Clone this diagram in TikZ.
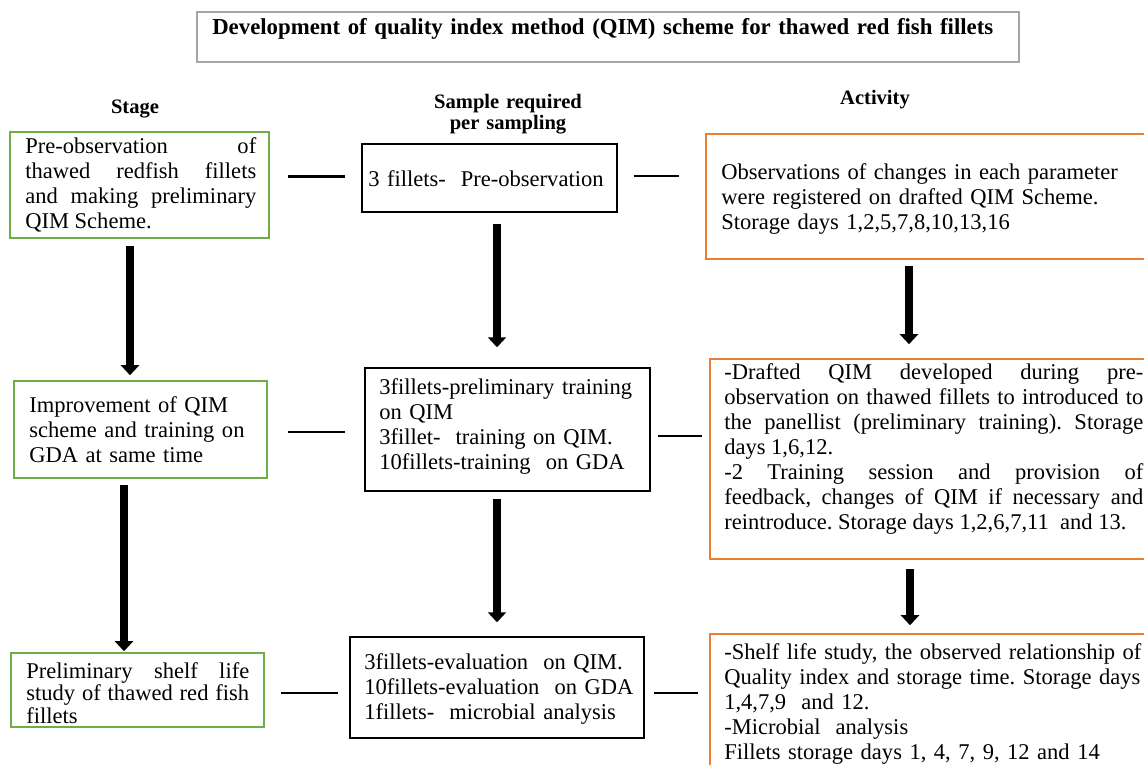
\documentclass[tikz,border=0pt]{standalone}
\usepackage{fontspec}
\setmainfont{Liberation Serif}
\usetikzlibrary{arrows.meta,fit}
\definecolor{grn}{RGB}{112,173,71}
\definecolor{org}{RGB}{237,125,49}
\definecolor{ttl}{RGB}{166,166,166}
\frenchspacing
\begin{document}
\begin{tikzpicture}[x=0.75pt,y=-0.75pt,
  gbox/.style={draw=grn, line width=1.2pt, inner sep=0pt},
  obox/.style={draw=org, line width=1.2pt, inner sep=0pt},
  kbox/.style={draw=black, line width=1.1pt, inner sep=0pt},
  tbox/.style={draw=ttl, line width=1.3pt, inner sep=0pt},
  txt/.style={inner sep=0pt, anchor=base west, align=left, font=\fontsize{16.9}{18.75}\selectfont},
  jtxt/.style={txt, align=justify, execute at begin node={\tolerance=10000\hbadness=10000\exhyphenpenalty=10000\hyphenpenalty=10000}},
  hdr/.style={inner sep=0pt, anchor=base, align=center, text width=150pt, font=\bfseries\fontsize{15.4}{15.75}\selectfont},
  arr/.style={line width=6.5pt, -{Triangle[width=13.5pt,length=7.5pt]}},
  dashln/.style={line width=2.2pt},
]
\useasboundingbox (0,0) rectangle (1144,764);
\fill[white] (0,0) rectangle (1144,764);

% title
\node[tbox, fit={(197,12) (1019,62)}] (title) {};
\node[txt, text width=600pt, font=\bfseries\fontsize{17.1}{19}\selectfont] (titlet) at (212,34) {Development of quality index method (QIM) scheme for thawed red fish fillets};

% headers
\node[hdr] (h1) at (135,113) {Stage};
\node[hdr] (h2) at (508,108) {Sample required\\per sampling};
\node[hdr] (h3) at (875,104) {Activity};

% boxes
\node[gbox, fit={(10,132) (269,238)}] (s1) {};
\node[kbox, fit={(362,144) (617,212)}] (b1) {};
\node[obox, fit={(706,134) (1170,259)}] (o1) {};
\node[gbox, fit={(14,381) (267,478)}] (s2) {};
\node[kbox, fit={(365,368) (650,491)}] (b2) {};
\node[obox, fit={(710,359) (1170,559)}] (o2) {};
\node[gbox, fit={(11,653) (264,727)}] (s3) {};
\node[kbox, fit={(350,637) (644,738)}] (b3) {};
\node[obox, fit={(710,634) (1170,785)}] (o3) {};

% texts
\node[jtxt, text width=173.25pt] (s1t) at (25,153) {Pre-observation of\linebreak thawed redfish fillets\linebreak and making preliminary\linebreak QIM Scheme.};
\node[txt, text width=183.75pt] (b1t) at (368,186) {3 fillets-~ Pre-observation};
\node[txt, text width=315pt] (o1t) at (721,179) {Observations of changes in each parameter\\were registered on drafted QIM Scheme.\\Storage days 1,2,5,7,8,10,13,16};

\node[txt, text width=176.25pt] (s2t) at (29,412) {Improvement of QIM\\scheme and training on\\GDA at same time};
\node[txt, text width=201pt] (b2t) at (379,394) {3fillets-preliminary training\\on QIM\\3fillet-~ training on QIM.\\10fillets-training~ on GDA};
\node[jtxt, text width=314.25pt] (o2t) at (724,379) {-Drafted QIM developed during pre-\linebreak observation on thawed fillets to introduced to\linebreak the panellist (preliminary training). Storage\linebreak days 1,6,12.\par -2 Training session and provision of\linebreak feedback, changes of QIM if necessary and\linebreak reintroduce. Storage days 1,2,6,7,11~ and 13.};

\node[jtxt, text width=167.25pt, font=\fontsize{16.9}{16.9}\selectfont] (s3t) at (26,678) {Preliminary shelf life\linebreak study of thawed red fish\linebreak fillets};
\node[txt, text width=206.25pt] (b3t) at (364,669) {3fillets-evaluation~ on QIM.\\10fillets-evaluation~ on GDA\\1fillets-~ microbial analysis};
\node[txt, text width=318.75pt] (o3t) at (724,659) {-Shelf life study, the observed relationship of\\Quality index and storage time. Storage days\\1,4,7,9~ and 12.\\-Microbial~ analysis\\Fillets storage days 1, 4, 7, 9, 12 and 14};

% arrow columns and dash rows
\coordinate (xa1) at (130,0);
\coordinate (xa2) at (497,0);
\coordinate (xa3) at (909,0);
\coordinate (xa4) at (124,0);
\coordinate (xa5) at (497,0);
\coordinate (xa6) at (910,0);
\coordinate (yd1) at (0,176.5);
\coordinate (yd2) at (0,176);
\coordinate (yd3) at (0,432);
\coordinate (yd4) at (0,436);
\coordinate (yd5) at (0,693);
\coordinate (yd6) at (0,693);

% vertical arrows
\draw[arr, shorten <=5.25pt, shorten >=3.75pt] (s1.south -| xa1) -- (s2.north -| xa1);
\draw[arr, shorten <=8.25pt, shorten >=15pt] (b1.south -| xa2) -- (b2.north -| xa2);
\draw[arr, shorten <=4.5pt, shorten >=10.5pt] (o1.south -| xa3) -- (o2.north -| xa3);
\draw[arr, shorten <=4.5pt, shorten >=0.75pt] (s2.south -| xa4) -- (s3.north -| xa4);
\draw[arr, shorten <=5.25pt, shorten >=10.5pt] (b2.south -| xa5) -- (b3.north -| xa5);
\draw[arr, shorten <=6.75pt, shorten >=6pt] (o2.south -| xa6) -- (o3.north -| xa6);

% horizontal dashes
\draw[dashln, shorten <=13.5pt, shorten >=12pt] (s1.east |- yd1) -- (b1.west |- yd1);
\draw[dashln, shorten <=12pt, shorten >=19.5pt] (b1.east |- yd2) -- (o1.west |- yd2);
\draw[dashln, shorten <=15pt, shorten >=14.25pt] (s2.east |- yd3) -- (b2.west |- yd3);
\draw[dashln, shorten <=5.25pt, shorten >=5.25pt] (b2.east |- yd4) -- (o2.west |- yd4);
\draw[dashln, shorten <=12pt, shorten >=8.25pt] (s3.east |- yd5) -- (b3.west |- yd5);
\draw[dashln, shorten <=6.75pt, shorten >=8.25pt] (b3.east |- yd6) -- (o3.west |- yd6);
\end{tikzpicture}
\end{document}
